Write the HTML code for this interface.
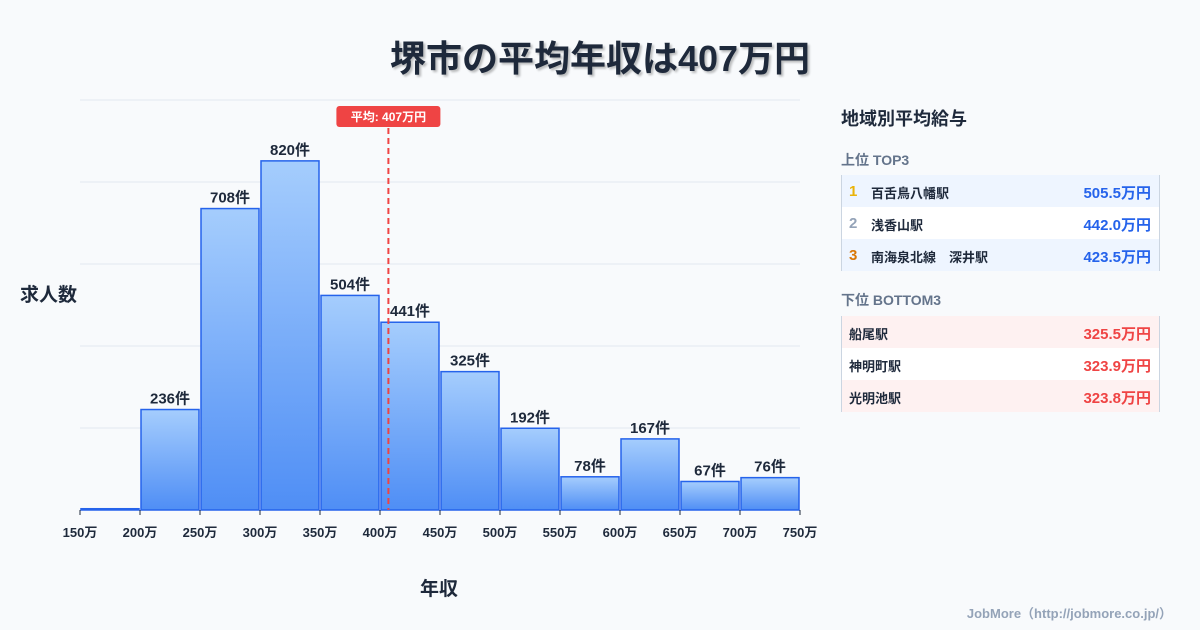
<!DOCTYPE html>
<html><head><meta charset="utf-8"><style>
body{margin:0;width:1200px;height:630px;background:#f8fafc;font-family:"Liberation Sans","Noto Sans CJK JP",sans-serif;overflow:hidden;position:relative;color:#1e293b}
.t{position:absolute;white-space:nowrap}
.row{position:absolute;left:841px;width:319px;height:32px;font-size:13px;font-weight:bold;border-left:1px solid #cbd5e1;border-right:1px solid #cbd5e1;box-sizing:border-box}
.row span{position:absolute;top:8px}
.row span.n{font-size:15px;top:8px}
.v{right:8px;font-size:15px;top:7px!important}
</style></head><body>
<div class="t" style="left:0;width:1200px;text-align:center;top:30px;font-size:36px;font-weight:bold;color:#1e293b;text-shadow:2px 2px 2px rgba(0,0,0,.25)">堺市の平均年収は407万円</div>
<svg id="chart" width="830" height="630" style="position:absolute;left:0;top:0">
<defs><linearGradient id="g" x1="0" y1="0" x2="0" y2="1"><stop offset="0" stop-color="#a5cdfd"/><stop offset="1" stop-color="#4f8ef5"/></linearGradient></defs>
</svg>
<div class="t" style="left:20px;top:280px;font-size:19px;font-weight:bold">求人数</div>
<div class="t" style="left:420px;top:574px;font-size:19px;font-weight:bold">年収</div>
<div class="t" style="left:841px;top:105px;font-size:18px;font-weight:bold">地域別平均給与</div>
<div class="t" style="left:841px;top:150px;font-size:14px;font-weight:bold;color:#64748b">上位 TOP3</div>
<div class="row" style="top:175px;background:#eef5ff"><span class="n" style="left:7px;color:#eab308">1</span><span style="left:29px">百舌鳥八幡駅</span><span class="v" style="color:#2563eb">505.5万円</span></div>
<div class="row" style="top:207px;background:#fff"><span class="n" style="left:7px;color:#94a3b8">2</span><span style="left:29px">浅香山駅</span><span class="v" style="color:#2563eb">442.0万円</span></div>
<div class="row" style="top:239px;background:#eef5ff"><span class="n" style="left:7px;color:#d97706">3</span><span style="left:29px">南海泉北線　深井駅</span><span class="v" style="color:#2563eb">423.5万円</span></div>
<div class="t" style="left:841px;top:290px;font-size:14px;font-weight:bold;color:#64748b">下位 BOTTOM3</div>
<div class="row" style="top:316px;background:#fef1f1"><span style="left:7px">船尾駅</span><span class="v" style="color:#ef4444">325.5万円</span></div>
<div class="row" style="top:348px;background:#fff"><span style="left:7px">神明町駅</span><span class="v" style="color:#ef4444">323.9万円</span></div>
<div class="row" style="top:380px;background:#fef1f1"><span style="left:7px">光明池駅</span><span class="v" style="color:#ef4444">323.8万円</span></div>
<div class="t" style="right:28px;top:603px;font-size:13px;font-weight:bold;color:#94a3b8">JobMore（http://jobmore.co.jp/）</div>
<script>
const binEdges=[150,200,250,300,350,400,450,500,550,600,650,700,750];
const counts=[3,236,708,820,504,441,325,192,78,167,67,76];
const meanValue=407;
const yMax=963;
const svg=document.getElementById('chart');
const NS='http://www.w3.org/2000/svg';
const X0=80,X1=800,Y0=510,Y1=100;
const xs=v=>X0+(v-binEdges[0])/(binEdges[binEdges.length-1]-binEdges[0])*(X1-X0);
const ys=v=>Y0-v/yMax*(Y0-Y1);
function mk(t,a){const e=document.createElementNS(NS,t);for(const k in a)e.setAttribute(k,a[k]);svg.appendChild(e);return e;}
for(let i=0;i<=5;i++){const y=Y1+i*(Y0-Y1)/5;const l=mk('line',{x1:X0,x2:X1,y1:y,y2:y,stroke:'#e2e8f0','stroke-width':1});

}
counts.forEach((c,i)=>{const x=xs(binEdges[i]),w=xs(binEdges[i+1])-x,y=ys(c);
const r=mk('rect',{x:x+1,y:y,width:w-2,height:Y0-y,fill:'url(#g)',stroke:'#2563eb','stroke-width':1.5});


if(c>10){const t=mk('text',{x:x+w/2,y:y-6,'text-anchor':'middle','font-size':15,'font-weight':'bold',fill:'#1e293b'});t.textContent=c+'件';

}});
binEdges.forEach(v=>{const x=xs(v);mk('line',{x1:x,x2:x,y1:Y0,y2:Y0+5,stroke:'#1e293b'});
const t=mk('text',{x:x,y:Y0+27,'text-anchor':'middle','font-size':13,'font-weight':'bold',fill:'#1e293b'});t.textContent=v+'万';

});
const mx=xs(meanValue);
const ml=mk('line',{x1:mx,x2:mx,y1:128,y2:Y0,stroke:'#ef4444','stroke-width':2,'stroke-dasharray':'6,4'});


const mb=mk('rect',{x:mx-52,y:106,width:104,height:21,rx:3,fill:'#ef4444'});


const mt=mk('text',{x:mx,y:121,'text-anchor':'middle','font-size':12,'font-weight':'bold',fill:'#fff'});mt.textContent='平均: '+meanValue+'万円';


</script>
</body></html>
